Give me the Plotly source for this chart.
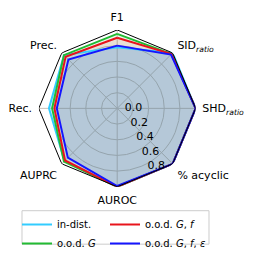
import plotly.graph_objects as go

categories = ["F1", "SID<sub><i>ratio</i></sub>", "SHD<sub><i>ratio</i></sub>", "% acyclic",
              "AUROC", "AUPRC", "Rec.", "Prec."]
series_names = ["in-dist.", "o.o.d. <i>G</i>", "o.o.d. <i>G</i>, <i>f</i>", "o.o.d. <i>G</i>, <i>f</i>, <i>ε</i>"]
in_dist = [0.78, 1.00, 1.00, 1.00, 1.00, 0.95, 0.87, 0.96]
ood_g = [0.95, 0.98, 1.00, 1.00, 1.00, 0.96, 0.83, 0.96]
ood_gf = [0.90, 0.98, 1.00, 1.00, 1.00, 0.94, 0.80, 0.93]
ood_gfe = [0.80, 0.97, 1.00, 1.00, 0.99, 0.89, 0.77, 0.88]
radial_ticks = [0.0, 0.2, 0.4, 0.6, 0.8]
frame_r = [1.0] * len(categories)

values = [in_dist, ood_g, ood_gf, ood_gfe]
line_colors = ["#33ccff", "#22bb33", "#e8141c", "#1414ff"]
fill_colors = ["rgba(51,204,255,0.22)", "rgba(34,187,51,0.10)", "rgba(230,20,30,0.10)", "rgba(20,20,255,0.07)"]
legend_ids = ["legend", "legend", "legend2", "legend2"]

# The page body has an 8px default margin; the figure is offset accordingly.
W, H = 238, 250

theta = categories + [categories[0]]
fig = go.Figure()
for v, fc in zip(values, fill_colors):
    fig.add_trace(go.Scatterpolar(r=v + [v[0]], theta=theta, fill="toself", fillcolor=fc,
                                  mode="lines", line=dict(width=0, color=fc), showlegend=False,
                                  hoverinfo="skip"))
for v, name, lc, lg in zip(values, series_names, line_colors, legend_ids):
    fig.add_trace(go.Scatterpolar(r=v + [v[0]], theta=theta, mode="lines", name=name,
                                  line=dict(color=lc, width=2), legend=lg))
fig.add_trace(go.Scatterpolar(r=frame_r + [frame_r[0]], theta=theta, mode="lines",
                              line=dict(color="black", width=1), showlegend=False, hoverinfo="skip"))

legend_style = dict(orientation="v", yanchor="top", xanchor="left", y=0.178,
                    bgcolor="rgba(0,0,0,0)", borderwidth=0, font=dict(size=10),
                    itemwidth=30, tracegroupgap=0)
fig.update_layout(
    width=W, height=H, margin=dict(l=0, r=0, t=0, b=0),
    paper_bgcolor="white",
    font=dict(family="DejaVu Sans", size=11, color="black"),
    polar=dict(
        domain=dict(x=[0.1239, 0.7937], y=[0.2732, 0.9108]),
        bgcolor="white",
        angularaxis=dict(direction="clockwise", rotation=90, showline=False,
                         gridcolor="#c8c0b8", gridwidth=0.8, ticks="outside", ticklen=4,
                         tickcolor="rgba(0,0,0,0)", tickfont=dict(size=11)),
        radialaxis=dict(range=[0, 1], tickvals=radial_ticks,
                        ticktext=[f"{t:.1f}" for t in radial_ticks],
                        showline=False, ticks="", angle=-68.8, side="counterclockwise",
                        gridcolor="#c8c0b8", gridwidth=0.8, tickfont=dict(size=11), tickangle=-68.8),
    ),
    legend=dict(x=0.0378, **legend_style),
    legend2=dict(x=0.4076, **legend_style),
    shapes=[dict(type="rect", xref="paper", yref="paper", x0=0.0588, x1=0.8445,
                 y0=0.04, y1=0.176, line=dict(color="#cccccc", width=1),
                 fillcolor="rgba(255,255,255,0.8)", layer="below")],
)
fig.write_html("out.html")
